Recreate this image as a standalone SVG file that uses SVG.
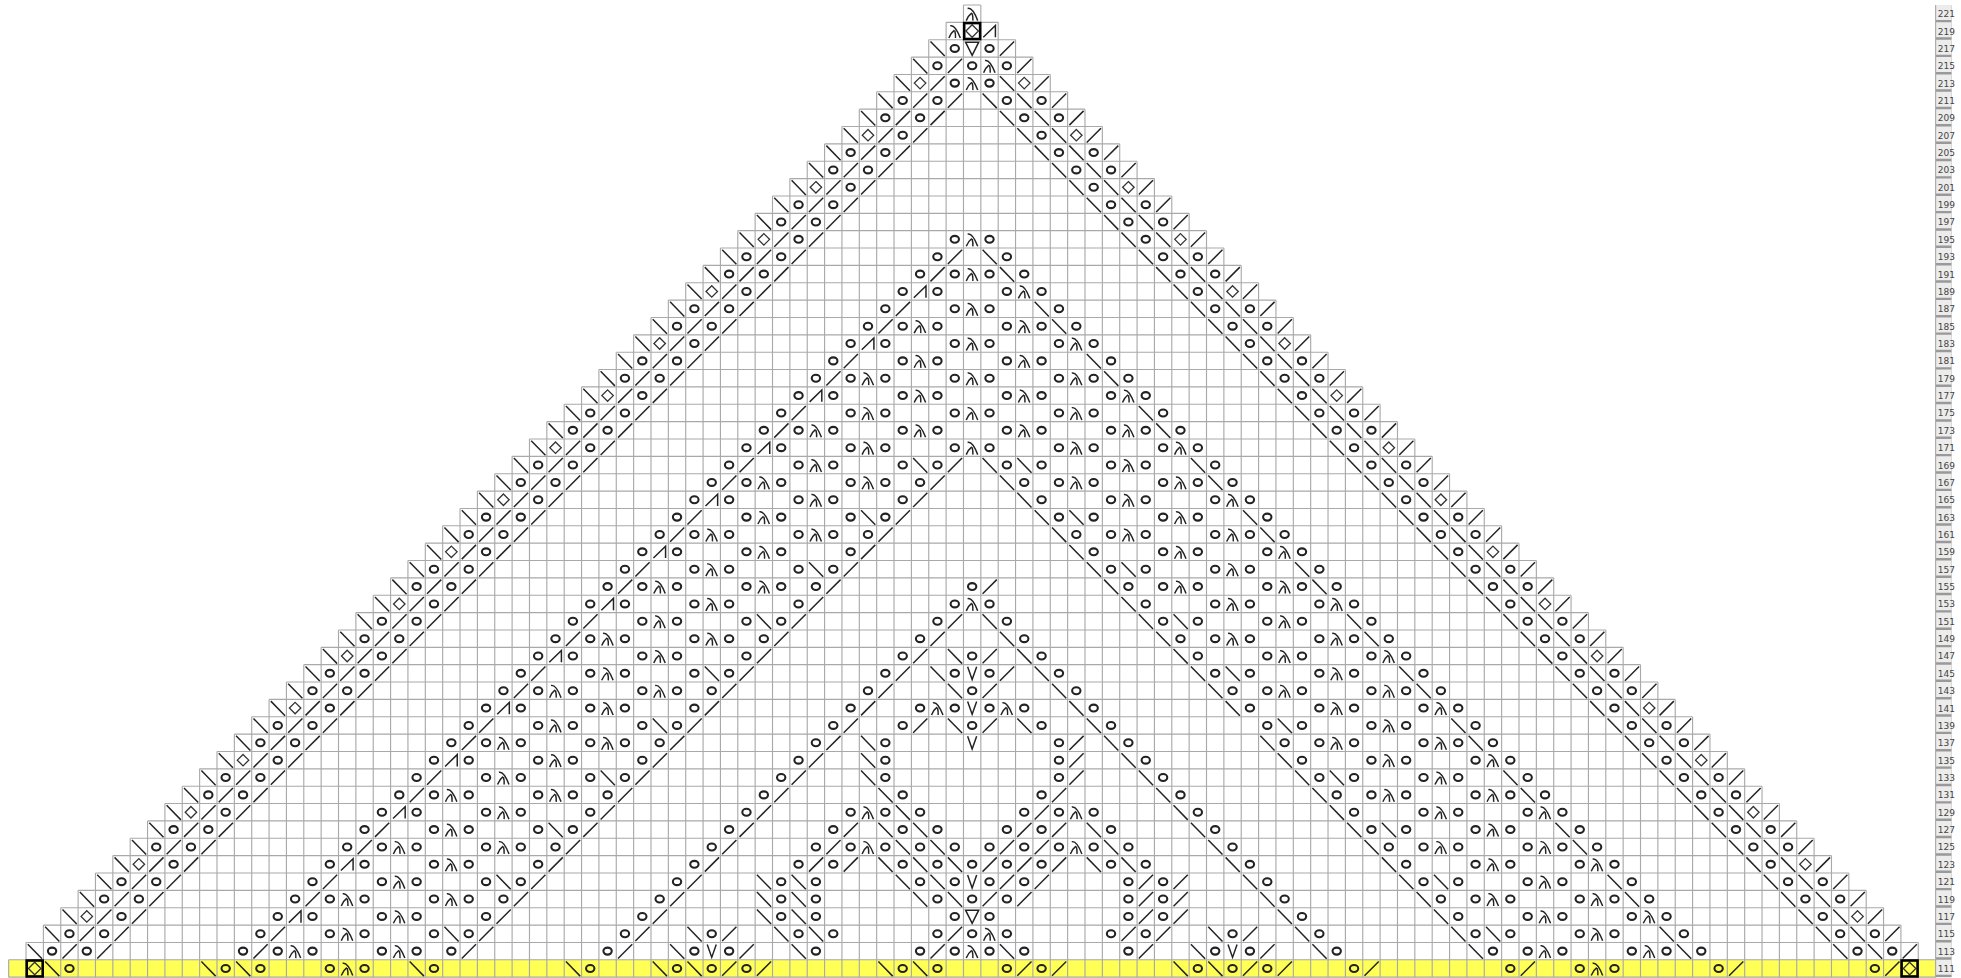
<svg xmlns="http://www.w3.org/2000/svg" width="1961" height="978" viewBox="0 0 1961 978">
<style>
.g{fill:none;stroke:#a9a9a9;stroke-width:.065}
.s{fill:none;stroke:#222;stroke-width:.085}
.c{fill:none;stroke:#222;stroke-width:.12}
.d{fill:none;stroke:#333;stroke-width:.075}
.h{fill:none;stroke:#000;stroke-width:.15}
.p{fill:none;stroke:none}
.t{font-family:"DejaVu Sans","Liberation Sans",sans-serif;font-size:.52px;fill:#444}
</style>
<defs>
<marker id="mb" markerUnits="userSpaceOnUse" markerWidth="1" markerHeight="1" overflow="visible"><path class="s" d="M.1 .1L.92 .94"/></marker>
<marker id="mf" markerUnits="userSpaceOnUse" markerWidth="1" markerHeight="1" overflow="visible"><path class="s" d="M.1 .92L.92 .1"/></marker>
<marker id="mo" markerUnits="userSpaceOnUse" markerWidth="1" markerHeight="1" overflow="visible"><ellipse class="c" cx=".5" cy=".5" rx=".24" ry=".2"/></marker>
<marker id="ml" markerUnits="userSpaceOnUse" markerWidth="1" markerHeight="1" overflow="visible"><path class="s" d="M.24 .2Q.52 .12 .82 .9M.48 .45Q.28 .6 .16 .9M.5 .48Q.56 .7 .54 .9"/></marker>
<marker id="md" markerUnits="userSpaceOnUse" markerWidth="1" markerHeight="1" overflow="visible"><path class="d" d="M.5 .17L.83 .5L.5 .83L.17 .5Z"/></marker>
<marker id="mk" markerUnits="userSpaceOnUse" markerWidth="1" markerHeight="1" overflow="visible"><path class="s" d="M.14 .86L.84 .18V.86"/></marker>
<marker id="mv" markerUnits="userSpaceOnUse" markerWidth="1" markerHeight="1" overflow="visible"><path class="s" d="M.24 .12L.5 .86L.76 .12"/></marker>
<marker id="mt" markerUnits="userSpaceOnUse" markerWidth="1" markerHeight="1" overflow="visible"><path class="s" d="M.12 .14H.88L.5 .9Z"/></marker>
<marker id="mm" markerUnits="userSpaceOnUse" markerWidth="1" markerHeight="1" overflow="visible"><path class="d" d="M.5 .14L.86 .5L.5 .86L.14 .5Z"/><rect class="h" x=".04" y=".04" width=".92" height=".92"/></marker>
</defs>
<g transform="translate(8.67 5) scale(17.36)">
<rect x="0" y="55" width="111" height="1" fill="#ffff55"/>
<g id="grid">
<path class="g" d="M55 0H56M54 1H57M53 2H58M52 3H59M51 4H60M50 5H61M49 6H62M48 7H63M47 8H64M46 9H65M45 10H66M44 11H67M43 12H68M42 13H69M41 14H70M40 15H71M39 16H72M38 17H73M37 18H74M36 19H75M35 20H76M34 21H77M33 22H78M32 23H79M31 24H80M30 25H81M29 26H82M28 27H83M27 28H84M26 29H85M25 30H86M24 31H87M23 32H88M22 33H89M21 34H90M20 35H91M19 36H92M18 37H93M17 38H94M16 39H95M15 40H96M14 41H97M13 42H98M12 43H99M11 44H100M10 45H101M9 46H102M8 47H103M7 48H104M6 49H105M5 50H106M4 51H107M3 52H108M2 53H109M1 54H110M0 55H111M0 56H111"/>
<path class="g" d="M0 55V56M1 54V56M2 53V56M3 52V56M4 51V56M5 50V56M6 49V56M7 48V56M8 47V56M9 46V56M10 45V56M11 44V56M12 43V56M13 42V56M14 41V56M15 40V56M16 39V56M17 38V56M18 37V56M19 36V56M20 35V56M21 34V56M22 33V56M23 32V56M24 31V56M25 30V56M26 29V56M27 28V56M28 27V56M29 26V56M30 25V56M31 24V56M32 23V56M33 22V56M34 21V56M35 20V56M36 19V56M37 18V56M38 17V56M39 16V56M40 15V56M41 14V56M42 13V56M43 12V56M44 11V56M45 10V56M46 9V56M47 8V56M48 7V56M49 6V56M50 5V56M51 4V56M52 3V56M53 2V56M54 1V56M55 0V56M56 0V56M57 1V56M58 2V56M59 3V56M60 4V56M61 5V56M62 6V56M63 7V56M64 8V56M65 9V56M66 10V56M67 11V56M68 12V56M69 13V56M70 14V56M71 15V56M72 16V56M73 17V56M74 18V56M75 19V56M76 20V56M77 21V56M78 22V56M79 23V56M80 24V56M81 25V56M82 26V56M83 27V56M84 28V56M85 29V56M86 30V56M87 31V56M88 32V56M89 33V56M90 34V56M91 35V56M92 36V56M93 37V56M94 38V56M95 39V56M96 40V56M97 41V56M98 42V56M99 43V56M100 44V56M101 45V56M102 46V56M103 47V56M104 48V56M105 49V56M106 50V56M107 51V56M108 52V56M109 53V56M110 54V56M111 55V56"/>
</g>
<g id="stitches">
<path class="p" style="marker:url(#mo)" d="M54 2H56L53 3H55H57L54 4H56
L51 5H53H57H59L50 6H52H58H60L51 7H59L48 8H50H60H62L47 9H49H61H63L48 10H62L45 11H47H63H65L44 12H46H64H66L45 13H54H56H65
L42 14H44H53H57H66H68L41 15H43H52H54H56H58H67H69L42 16H51H53H57H59H68L39 17H41H50H54H56H60H69H71
L38 18H40H49H51H53H57H59H61H70H72L39 19H48H50H54H56H60H62H71L36 20H38H47H51H53H57H59H63H72H74
L35 21H37H46H48H50H54H56H60H62H64H73H75L36 22H45H47H51H53H57H59H63H65H74
L33 23H35H44H48H50H54H56H60H62H66H75H77L32 24H34H43H45H47H51H53H57H59H63H65H67H76H78
L33 25H42H44H48H50H54H56H60H62H66H68H77L30 26H32H41H45H47H51H53H57H59H63H65H69H78H80
L29 27H31H40H42H44H48H50H52H58H60H62H66H68H70H79H81L30 28H39H41H45H47H51H59H63H65H69H71H80
L27 29H29H38H42H44H48H50H60H62H66H68H72H81H83L26 30H28H37H39H41H45H47H49H61H63H65H69H71H73H82H84
L27 31H36H38H42H44H48H62H66H68H72H74H83L24 32H26H35H39H41H45H47H63H65H69H71H75H84H86
L23 33H25H34H36H38H42H44H46H55H64H66H68H72H74H76H85H87L24 34H33H35H39H41H45H54H56H65H69H71H75H77H86
L21 35H23H32H36H38H42H44H53H57H66H68H72H74H78H87H89L20 36H22H31H33H35H39H41H43H52H58H67H69H71H75H77H79H88H90
L21 37H30H32H36H38H42H51H55H59H68H72H74H78H80H89L18 38H20H29H33H35H39H41H50H54H56H60H69H71H75H77H81H90H92
L17 39H19H28H30H32H36H38H40H49H55H61H70H72H74H78H80H82H91H93L18 40H27H29H33H35H39H48H52H54H56H58H62H71H75H77H81H83H92
L15 41H17H26H30H32H36H38H47H51H55H59H63H72H74H78H80H84H93H95L14 42H16H25H27H29H33H35H37H46H50H60H64H73H75H77H81H83H85H94H96
L15 43H24H26H30H32H36H45H50H60H65H74H78H80H84H86H95L12 44H14H23H27H29H33H35H44H50H60H66H75H77H81H83H87H96H98
L11 45H13H22H24H26H30H32H34H43H51H59H67H76H78H80H84H86H88H97H99L12 46H21H23H27H29H33H42H48H50H52H58H60H62H68H77H81H83H87H89H98
L9 47H11H20H24H26H30H32H41H47H51H53H57H59H63H69H78H80H84H86H90H99H101L8 48H10H19H21H23H27H29H31H40H46H48H50H52H54H56H58H60H62H64H70H79H81H83H87H89H91H100H102
L9 49H18H20H24H26H30H39H45H47H51H53H55H57H59H63H65H71H80H84H86H90H92H101L6 50H8H17H21H23H27H29H38H44H46H52H54H56H58H64H66H72H81H83H87H89H93H102H104
L5 51H7H16H18H20H24H26H28H37H44H46H53H55H57H64H66H73H82H84H86H90H92H94H103H105L6 52H15H17H21H23H27H36H44H46H54H56H64H66H74H83H87H89H93H95H104
L3 53H5H14H18H20H24H26H35H40H45H47H53H55H57H63H65H70H75H84H86H90H92H96H105H107L2 54H4H13H15H17H21H23H25H34H39H41H46H52H54H56H58H64H69H71H76H85H87H89H93H95H97H106H108
L3 55H12H14H18H20H24H33H38H40H42H51H53H57H59H68H70H72H77H86H90H92H98H107"/>
<path class="p" style="marker:url(#mb)" d="M53 2L52 3L51 4H57L50 5H56H58L49 6H57H59L48 7H58H60L47 8H59H61L46 9H60H62L45 10H61H63L44 11H62H64L43 12H63H65L42 13H64H66
L41 14H56H65H67L40 15H57H66H68L39 16H67H69L38 17H59H68H70L37 18H60H69H71L36 19H70H72L35 20H62H71H73L34 21H63H72H74L33 22H73H75
L32 23H65H74H76L31 24H66H75H77L30 25H76H78L29 26H52H56H58H68H77H79L28 27H57H69H78H80L27 28H58H79H81L26 29H49H59H61H71H80H82L25 30H60H72H81H83
L24 31H61H82H84L23 32H46H62H64H74H83H85L22 33H63H75H84H86L21 34H64H85H87L20 35H43H56H65H67H77H86H88L19 36H57H66H78H87H89L18 37H54H58H67H88H90
L17 38H40H53H59H68H70H80H89H91L16 39H54H60H69H81H90H92L15 40H61H70H91H93L14 41H37H54H58H62H73H83H92H94L13 42H49H63H72H84H93H95L12 43H49H64H73H94H96
L11 44H34H49H65H74H76H86H95H97L10 45H50H66H75H87H96H98L9 46H51H67H76H97H99L8 47H31H50H52H62H68H77H79H89H98H100L7 48H51H53H63H69H78H90H99H101
L6 49H50H52H54H62H64H70H79H100H102L5 50H28H43H45H51H53H71H80H82H92H101H103L4 51H43H45H52H54H72H81H93H102H104L3 52H43H45H73H82H103H105
L2 53H25H39H44H46H69H74H83H85H95H104H106L1 54H38H45H57H68H75H84H96H105H107L2 55H11H13H23H32H37H39H50H52H67H69"/>
<path class="p" style="marker:url(#mf)" d="M57 2L54 3H58L53 4H59L52 5H54H60L51 6H53H61L50 7H52H62L49 8H51H63L48 9H50H64L47 10H49H65L46 11H48H66L45 12H47H67L44 13H46H68
L43 14H45H54H69L42 15H44H53H70L41 16H43H71L40 17H42H51H72L39 18H41H50H73L38 19H40H74L37 20H39H48H75L36 21H38H47H76L35 22H37H77
L34 23H36H45H78L33 24H35H44H79L32 25H34H80L31 26H33H42H54H81L30 27H32H41H53H82L29 28H31H52H83L28 29H30H39H51H84L27 30H29H38H50H85
L26 31H28H49H86L25 32H27H36H48H87L24 33H26H35H47H56H88L23 34H25H46H89L22 35H24H33H45H54H90L21 36H23H32H44H53H91L20 37H22H43H52H56H92
L19 38H21H30H42H51H57H93L18 39H20H29H41H50H56H94L17 40H19H40H49H95L16 41H18H27H39H48H52H56H96L15 42H17H26H38H47H61H97L14 43H16H37H46H61H98
L13 44H15H24H36H45H61H99L12 45H14H23H35H44H60H100L11 46H13H34H43H59H101L10 47H12H21H33H42H48H58H60H102L9 48H11H20H32H41H47H57H59H103
L8 49H10H31H40H46H48H56H58H60H104L7 50H9H18H30H39H57H59H65H67H105L6 51H8H17H29H38H56H58H65H67H106L5 52H7H28H37H65H67H107
L4 53H6H15H27H36H41H54H64H66H71H108L3 54H5H14H26H35H42H53H65H72H109L41 55H43H58H60H71H73H78H87H99H108"/>
<path class="p" style="marker:url(#ml)" d="M55 0L54 1L56 3L55 4L55 13L55 15L58 16L55 17L52 18H58L55 19H61L52 20H58L49 21H55H61L52 22H58H64L49 23H55H61L46 24H52H58H64L49 25H55H61H67L46 26H64L43 27H49H61H67L46 28H64H70L43 29H67L40 30H46H64H70L43 31H67H73L40 32H70L37 33H43H67H73L40 34H55H70H76L37 35H73L34 36H40H70H76L37 37H73H79L34 38H76L31 39H37H73H79L34 40H53H57H76H82L31 41H79L28 42H34H76H82L31 43H79H85L28 44H82L25 45H31H79H85L28 46H49H61H82H88L25 47H85L22 48H28H49H61H82H88L25 49H85H91L22 50H88L19 51H25H85H91L22 52H88H94L19 53H56H91L16 54H22H55H88H94L19 55H91"/>
<path class="p" style="marker:url(#md)" d="M52 4H58L49 7H61L46 10H64L43 13H67L40 16H70L37 19H73L34 22H76L31 25H79L28 28H82L25 31H85L22 34H88L19 37H91L16 40H94L13 43H97L10 46H100L7 49H103L4 52H106"/>
<path class="p" style="marker:url(#mk)" d="M56 1L52 16L49 19L46 22L43 25L40 28L37 31L34 34L31 37L28 40L25 43L22 46L19 49L16 52"/>
<path class="p" style="marker:url(#mv)" d="M55 38V40V42V50L40 54H70"/>
<path class="p" style="marker:url(#mt)" d="M55 2V52"/>
<path class="p" style="marker:url(#mm)" d="M55 1L1 55H109"/>
</g>
<g id="row-labels">
<rect x="111" y="0" width=".92" height="56" fill="#999"/>
<path d="M111.46 0V56" fill="none" stroke="#ececec" stroke-width=".92" stroke-dasharray=".86 .14"/>
<path class="g" d="M111 0V56"/>
<g class="t">
<text x="111.12" y=".7">221</text><text x="111.12" y="1.7">219</text><text x="111.12" y="2.7">217</text><text x="111.12" y="3.7">215</text><text x="111.12" y="4.7">213</text><text x="111.12" y="5.7">211</text><text x="111.12" y="6.7">209</text><text x="111.12" y="7.7">207</text><text x="111.12" y="8.7">205</text><text x="111.12" y="9.7">203</text><text x="111.12" y="10.7">201</text><text x="111.12" y="11.7">199</text><text x="111.12" y="12.7">197</text><text x="111.12" y="13.7">195</text><text x="111.12" y="14.7">193</text><text x="111.12" y="15.7">191</text><text x="111.12" y="16.7">189</text><text x="111.12" y="17.7">187</text><text x="111.12" y="18.7">185</text><text x="111.12" y="19.7">183</text><text x="111.12" y="20.7">181</text><text x="111.12" y="21.7">179</text><text x="111.12" y="22.7">177</text><text x="111.12" y="23.7">175</text><text x="111.12" y="24.7">173</text><text x="111.12" y="25.7">171</text><text x="111.12" y="26.7">169</text><text x="111.12" y="27.7">167</text><text x="111.12" y="28.7">165</text><text x="111.12" y="29.7">163</text><text x="111.12" y="30.7">161</text><text x="111.12" y="31.7">159</text><text x="111.12" y="32.7">157</text><text x="111.12" y="33.7">155</text><text x="111.12" y="34.7">153</text><text x="111.12" y="35.7">151</text><text x="111.12" y="36.7">149</text><text x="111.12" y="37.7">147</text><text x="111.12" y="38.7">145</text><text x="111.12" y="39.7">143</text><text x="111.12" y="40.7">141</text><text x="111.12" y="41.7">139</text><text x="111.12" y="42.7">137</text><text x="111.12" y="43.7">135</text><text x="111.12" y="44.7">133</text><text x="111.12" y="45.7">131</text><text x="111.12" y="46.7">129</text><text x="111.12" y="47.7">127</text><text x="111.12" y="48.7">125</text><text x="111.12" y="49.7">123</text><text x="111.12" y="50.7">121</text><text x="111.12" y="51.7">119</text><text x="111.12" y="52.7">117</text><text x="111.12" y="53.7">115</text><text x="111.12" y="54.7">113</text><text x="111.12" y="55.7">111</text>
</g>
</g>
</g>
</svg>
